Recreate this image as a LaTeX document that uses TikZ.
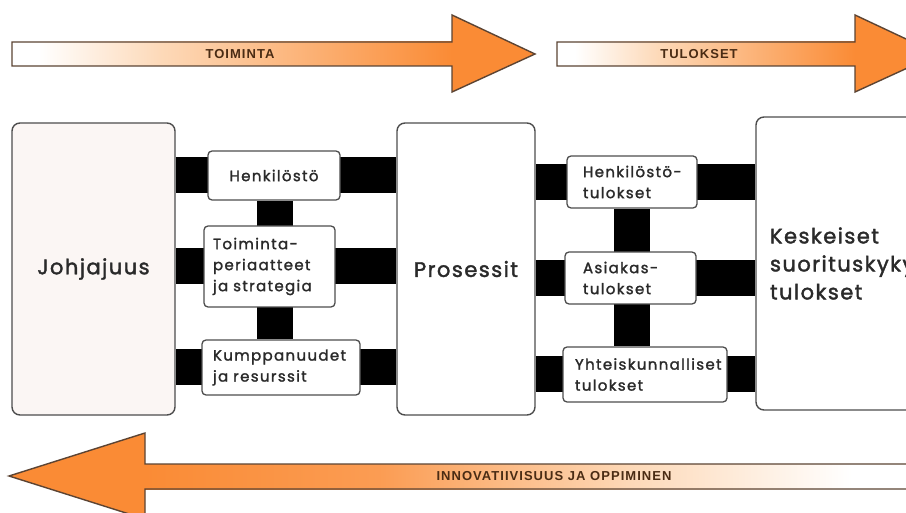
\documentclass[tikz,border=0pt]{standalone}
\usepackage{fontspec}
\setmainfont{Poppins}
\newfontfamily\lblfont{Liberation Sans}[LetterSpace=8]
\newfontfamily\boxfont{Poppins}[LetterSpace=9,FakeBold=1.6]
\newfontfamily\bigfont{Poppins}[LetterSpace=7,FakeBold=1.8]
\definecolor{arrorange}{HTML}{FA8B35}
\definecolor{arrpeach}{HTML}{FDD9B8}
\definecolor{arrline}{HTML}{5C4433}
\definecolor{boxline}{HTML}{4D4D4D}
\definecolor{lblcol}{HTML}{4A2C14}
\definecolor{txtcol}{HTML}{2A2A2A}
\definecolor{leadfill}{HTML}{FBF6F4}
\pgfdeclarehorizontalshading{shaftR}{100bp}{color(0bp)=(white); color(28bp)=(white); color(42bp)=(arrpeach); color(75bp)=(arrorange); color(100bp)=(arrorange)}
\pgfdeclarehorizontalshading{shaftL}{100bp}{color(0bp)=(arrorange); color(25bp)=(arrorange); color(40bp)=(arrorange!85!white); color(56bp)=(arrpeach); color(70bp)=(white); color(100bp)=(white)}
\pgfdeclarelayer{bg}
\pgfsetlayers{bg,main}
\tikzset{
  bigbox/.style={draw=boxline, line width=1.4pt, rounded corners=8pt, fill=white, text=txtcol, font=\bigfont\fontsize{21}{28}\selectfont, inner sep=0pt},
  smallbox/.style={draw=boxline, line width=1.3pt, rounded corners=4pt, fill=white, text=txtcol, font=\boxfont\fontsize{15}{21}\selectfont, inner ysep=0pt, align=left},
  bar/.style={line width=36pt, draw=black},
  arrowline/.style={draw=arrline, line width=1.4pt, line join=miter},
  arrowlabel/.style={text=lblcol, font=\lblfont\bfseries\fontsize{13}{15}\selectfont, inner sep=0pt}
}
\begin{document}
\begin{tikzpicture}[x=1pt,y=-1pt]
\useasboundingbox (0,0) rectangle (906,513);
\clip (0,0) rectangle (906,513);

% top arrow: TOIMINTA
\shade[shading=shaftR] (12,42) rectangle (452,66);
\fill[arrorange] (452,15) -- (535,54) -- (452,92) -- cycle;
\draw[arrowline] (12,42) -- (452,42) -- (452,15) -- (535,54) -- (452,92) -- (452,66) -- (12,66) -- cycle;
\node[arrowlabel] (toimlbl) at (240,54) {TOIMINTA};

% top arrow: TULOKSET
\shade[shading=shaftR] (557,42) rectangle (855,66);
\fill[arrorange] (855,15) -- (938,54) -- (855,92) -- cycle;
\draw[arrowline] (557,42) -- (855,42) -- (855,15) -- (938,54) -- (855,92) -- (855,66) -- (557,66) -- cycle;
\node[arrowlabel] (tullbl) at (699,54) {TULOKSET};

% bottom arrow
\shade[shading=shaftL] (145,464) rectangle (930,489);
\fill[arrorange] (145,433) -- (9,476) -- (145,519) -- cycle;
\draw[arrowline] (930,464) -- (145,464) -- (145,433) -- (9,476) -- (145,519) -- (145,489) -- (930,489);
\node[arrowlabel] (innlbl) at (554,476) {INNOVATIIVISUUS JA OPPIMINEN};

% big boxes
\node[bigbox, fill=leadfill, minimum width=163pt, minimum height=292pt] (lead) at (93.5,269) {Johjajuus};
\node[bigbox, minimum width=138pt, minimum height=292pt] (proc) at (466,269) {Prosessit};
\node[bigbox, minimum width=180pt, minimum height=293pt, inner xsep=14pt, text width=152pt, align=left] (kpi) at (846,263.5) {Keskeiset\\\mbox{suorituskyky}\\tulokset};

% enablers
\node[smallbox, align=center, minimum width=132pt, minimum height=49pt] (hen) at (274,175.5) {Henkilöstö};
\node[smallbox, inner xsep=9pt, text width=113pt, minimum height=81pt] (toim) at (269.5,266.5) {\mbox{Toiminta-}\\periaatteet\\ja strategia};
\node[smallbox, inner xsep=11pt, text width=136pt, minimum height=55pt] (kump) at (281,367.5) {\mbox{Kumppanuudet}\\ja resurssit};

% results
\node[smallbox, inner xsep=16pt, text width=98pt, minimum height=52pt] (hent) at (632,182) {\mbox{Henkilöstö-}\\tulokset};
\node[smallbox, inner xsep=18pt, text width=95pt, minimum height=52pt] (asi) at (630.5,278) {\mbox{Asiakas-}\\tulokset};
\node[smallbox, inner xsep=12pt, text width=140pt, minimum height=55pt] (yht) at (645,374.5) {\mbox{Yhteiskunnalliset}\\tulokset};

\coordinate (lv) at (275,0);
\coordinate (rv) at (632,0);

\begin{pgfonlayer}{bg}
\fill[white] (0,0) rectangle (906,513);
\draw[bar] (lead.east |- hen) -- (proc.west |- hen);
\draw[bar] (lead.east |- toim) -- (proc.west |- toim);
\draw[bar] (lead.east |- kump) -- (proc.west |- kump);
\draw[bar] (lv |- hen.south) -- (lv |- kump.north);
\draw[bar] (proc.east |- hent) -- (kpi.west |- hent);
\draw[bar] (proc.east |- asi) -- (kpi.west |- asi);
\draw[bar] (proc.east |- yht) -- (kpi.west |- yht);
\draw[bar] (rv |- hent.south) -- (rv |- yht.north);
\end{pgfonlayer}
\end{tikzpicture}
\end{document}
